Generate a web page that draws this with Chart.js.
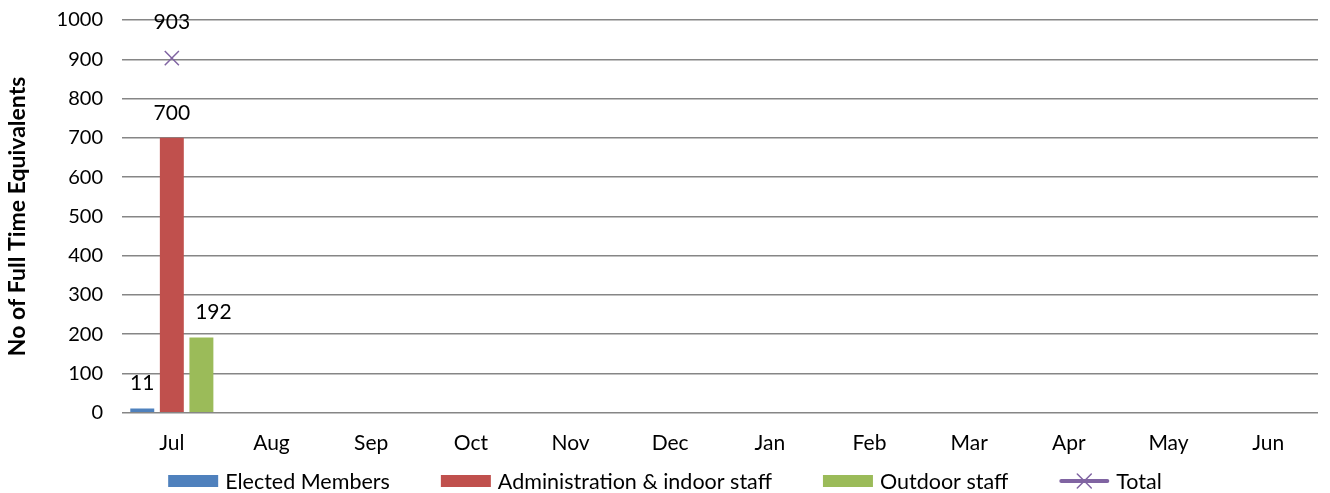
<!DOCTYPE html>
<html>
<head>
<meta charset="utf-8">
<script src="https://cdn.jsdelivr.net/npm/chart.js@4"></script>
<style>
html,body{margin:0;padding:0;background:#fff;overflow:hidden;}
#wrap{width:1330px;height:493px;overflow:hidden;position:relative;}
#c{position:absolute;left:0;top:-11px;}
</style>
</head>
<body>
<div id="wrap"><canvas id="c" width="1330" height="504"></canvas></div>
<script>
const categories = ['Jul','Aug','Sep','Oct','Nov','Dec','Jan','Feb','Mar','Apr','May','Jun'];
const electedMembers = [11, null, null, null, null, null, null, null, null, null, null, null];
const adminIndoor = [700, null, null, null, null, null, null, null, null, null, null, null];
const outdoorStaff = [192, null, null, null, null, null, null, null, null, null, null, null];
const total = [903, null, null, null, null, null, null, null, null, null, null, null];
const yTicks = [0,100,200,300,400,500,600,700,800,900,1000];

const FONT = 'Lato, "Open Sans", sans-serif';
const SHIFT = 11;

const labelPlugin = {
  id: 'valueLabels',
  afterDatasetsDraw(chart) {
    const ctx = chart.ctx;
    ctx.save();
    ctx.font = '21px ' + FONT;
    ctx.fillStyle = '#000';
    ctx.textAlign = 'center';
    ctx.textBaseline = 'middle';
    chart.data.datasets.forEach((ds, i) => {
      const meta = chart.getDatasetMeta(i);
      meta.data.forEach((el, j) => {
        const v = ds.data[j];
        if (v === null || v === undefined) return;
        const off = ds.type === 'line' ? 36 : 25;
        const dx = ds.labelDx || 0;
        ctx.fillText(String(v), el.x + dx, el.y - off);
      });
    });
    ctx.restore();
  }
};

const legendPlugin = {
  id: 'customLegend',
  afterDraw(chart) {
    const ctx = chart.ctx;
    ctx.save();
    ctx.font = '21.5px ' + FONT;
    ctx.textBaseline = 'middle';
    ctx.fillStyle = '#000';
    const y = 481 + SHIFT;
    const boxW = 50, boxH = 12, gapT = 7, gapI = 51;
    const items = chart.data.datasets.map(d => ({label: d.label, color: d.type === 'line' ? d.borderColor : d.backgroundColor, line: d.type === 'line'}));
    let totalW = 0;
    items.forEach((it, k) => { totalW += boxW + gapT + ctx.measureText(it.label).width + (k < items.length - 1 ? gapI : 0); });
    let x = (chart.width - totalW) / 2;
    items.forEach(it => {
      if (it.line) {
        ctx.strokeStyle = it.color;
        ctx.lineWidth = 4;
        ctx.lineCap = 'round';
        ctx.beginPath(); ctx.moveTo(x + 2, y); ctx.lineTo(x + boxW - 2, y); ctx.stroke();
        ctx.lineWidth = 1.5;
        ctx.beginPath();
        ctx.moveTo(x + boxW/2 - 7, y - 7); ctx.lineTo(x + boxW/2 + 7, y + 7);
        ctx.moveTo(x + boxW/2 + 7, y - 7); ctx.lineTo(x + boxW/2 - 7, y + 7);
        ctx.stroke();
      } else {
        ctx.fillStyle = it.color;
        ctx.fillRect(x, y - boxH/2, boxW, boxH);
      }
      x += boxW + gapT;
      ctx.fillStyle = '#000';
      ctx.fillText(it.label, x, y + 1);
      x += ctx.measureText(it.label).width + gapI;
    });
    ctx.restore();
  }
};

new Chart(document.getElementById('c'), {
  type: 'bar',
  data: {
    labels: categories,
    datasets: [
      {label: 'Elected Members', data: electedMembers, backgroundColor: '#4F81BD', order: 2},
      {label: 'Administration & indoor staff', data: adminIndoor, backgroundColor: '#C0504D', order: 2},
      {label: 'Outdoor staff', data: outdoorStaff, backgroundColor: '#9BBB59', order: 2, labelDx: 12},
      {label: 'Total', type: 'line', data: total, borderColor: '#8064A2', backgroundColor: '#8064A2',
       showLine: false, pointStyle: 'crossRot', pointRadius: 10, pointBorderWidth: 1.5, order: 1}
    ]
  },
  options: {
    responsive: false,
    animation: false,
    devicePixelRatio: 1,
    categoryPercentage: 0.89,
    barPercentage: 0.81,
    layout: {padding: {left: 0, right: 12, top: 0, bottom: 27}},
    plugins: {legend: {display: false}, tooltip: {enabled: false}},
    scales: {
      x: {
        grid: {display: false},
        border: {display: false},
        ticks: {color: '#000', font: {family: FONT, size: 21}, padding: 10}
      },
      y: {
        min: 0, max: 1000,
        afterBuildTicks(axis) { axis.ticks = yTicks.map(v => ({value: v})); },
        grid: {color: '#868686', lineWidth: 1.5, drawTicks: false},
        border: {display: false},
        ticks: {color: '#000', font: {family: FONT, size: 20}, padding: 19, callback: v => String(v)},
        title: {display: true, text: 'No of Full Time Equivalents', color: '#000',
                font: {family: FONT, size: 23, weight: 'bold'}, padding: {bottom: 6}}
      }
    }
  },
  plugins: [labelPlugin, legendPlugin]
});
</script>
</body>
</html>
